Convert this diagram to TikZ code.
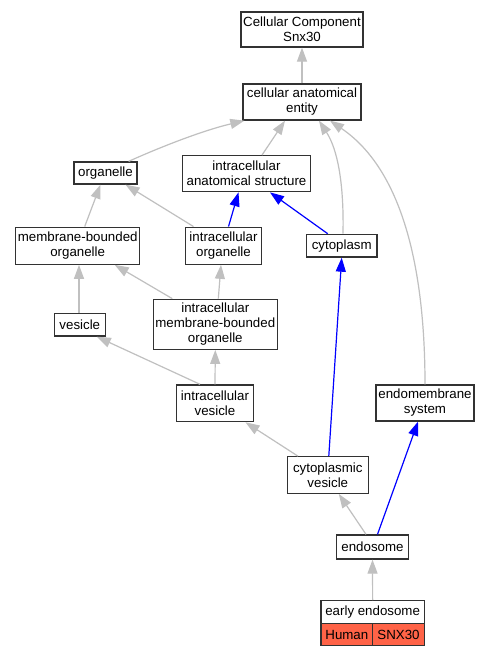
\documentclass[tikz,border=0pt]{standalone}
\usepackage{fontspec}
\setmainfont{Liberation Sans}
\usetikzlibrary{arrows.meta}
\definecolor{edgegray}{RGB}{192,192,192}
\definecolor{boxborder}{RGB}{50,50,50}
\definecolor{tomatofill}{RGB}{255,99,71}
\tikzset{
  term/.style={draw=boxborder, line width=1.3pt, fill=white, inner sep=0pt, align=center,
    font=\fontsize{13.3}{15}\selectfont, text=black},
  isa/.style={draw=edgegray, line width=1.2pt, -{Triangle[length=14pt,width=10pt]}, color=edgegray},
  partof/.style={draw=blue, line width=1.2pt, -{Triangle[length=14pt,width=10pt]}, color=blue},
}
\begin{document}
\begin{tikzpicture}[x=1pt,y=-1pt]
\useasboundingbox (0,0) rectangle (491,656);
\fill[white] (0,0) rectangle (491,656);
% nodes
\node[term, minimum width=122pt, minimum height=35pt] (top) at (302,29.5) {Cellular Component\\Snx30};
\node[term, minimum width=118pt, minimum height=36pt] (cae) at (302,102) {cellular anatomical\\entity};
\node[term, minimum width=63pt, minimum height=22pt] (org) at (105.5,173) {organelle};
\node[term, minimum width=128.5pt, minimum height=36pt] (ias) at (246.5,173.7) {intracellular\\anatomical structure};
\node[term, minimum width=124pt, minimum height=37pt] (mbo) at (77.7,245.7) {membrane-bounded\\organelle};
\node[term, minimum width=75.6pt, minimum height=37pt] (io) at (223.5,245.7) {intracellular\\organelle};
\node[term, minimum width=70.7pt, minimum height=22.7pt] (cyto) at (341.7,245.7) {cytoplasm};
\node[term, minimum width=51pt, minimum height=22.7pt] (ves) at (79.8,324.7) {vesicle};
\node[term, minimum width=124pt, minimum height=50pt] (imbo) at (215.3,324.3) {intracellular\\membrane-bounded\\organelle};
\node[term, minimum width=98pt, minimum height=36pt] (ems) at (425,403) {endomembrane\\system};
\node[term, minimum width=76.6pt, minimum height=36.7pt] (iv) at (215,403.3) {intracellular\\vesicle};
\node[term, minimum width=81pt, minimum height=36.6pt] (cv) at (327.8,475) {cytoplasmic\\vesicle};
\node[term, minimum width=71.6pt, minimum height=24pt] (endo) at (372.5,547) {endosome};
\node[term, minimum width=103.3pt, minimum height=22.6pt] (early) at (372.65,612) {early endosome};
\node[term, fill=tomatofill, minimum width=51.7pt, minimum height=22.4pt] (human) at (346.85,634.5) {Human};
\node[term, fill=tomatofill, minimum width=51.6pt, minimum height=22.4pt] (gene) at (398.5,634.5) {SNX30};
% edges
\draw[isa] (cae.north) -- (top.south);
\draw[isa] ([xshift=-9pt]org.north east) .. controls (165,145) and (205,130) .. ([xshift=2pt]cae.south west);
\draw[isa] ([xshift=15.5pt]ias.north) -- ([xshift=-17pt]cae.south);
\draw[isa] ([xshift=1.3pt]cyto.north) .. controls (344,185) and (338,150) .. ([xshift=17pt]cae.south);
\draw[isa] (ems.north) .. controls (425,290) and (410,175) .. ([xshift=28pt]cae.south);
\draw[isa] ([xshift=7pt]mbo.north) -- ([xshift=-5pt]org.south);
\draw[isa] ([xshift=-30pt]io.north) -- ([xshift=20pt]org.south);
\draw[partof] ([xshift=5pt]io.north) -- ([xshift=-8pt]ias.south);
\draw[partof] ([xshift=-14pt]cyto.north) -- ([xshift=23.5pt]ias.south);
\draw[isa] ([xshift=-0.8pt]ves.north) -- ([xshift=1.3pt]mbo.south);
\draw[isa] ([xshift=-43pt]imbo.north) -- ([xshift=37pt]mbo.south);
\draw[isa] ([xshift=3pt]imbo.north) -- ([xshift=-2.5pt]io.south);
\draw[isa] ([xshift=-15pt]iv.north) -- ([xshift=17pt]ves.south);
\draw[isa] (iv.north) -- (imbo.south);
\draw[isa] ([xshift=-30pt]cv.north) -- ([xshift=30.5pt]iv.south);
\draw[partof] ([xshift=1pt]cv.north) -- (cyto.south);
\draw[isa] ([xshift=-6.5pt]endo.north) -- ([xshift=11pt]cv.south);
\draw[partof] ([xshift=5pt]endo.north) -- ([xshift=-7pt]ems.south);
\draw[isa] (early.north) -- (endo.south);
\end{tikzpicture}
\end{document}
